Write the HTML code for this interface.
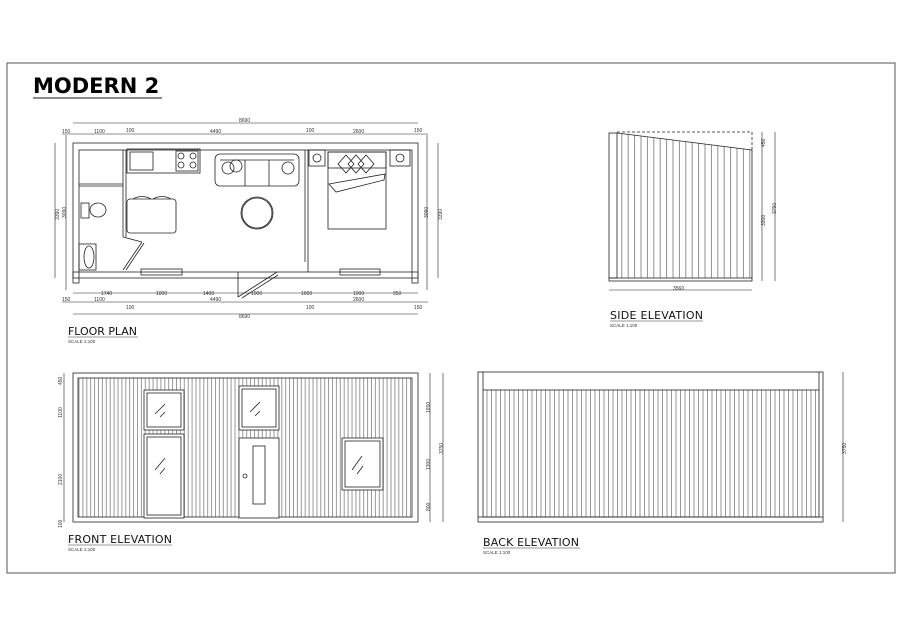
<!DOCTYPE html>
<html><head><meta charset="utf-8"><style>
html,body{margin:0;padding:0;background:#fff;}
svg{display:block;font-family:"Liberation Sans",sans-serif;}
</style></head><body>
<svg width="900" height="636" viewBox="0 0 900 636" xmlns="http://www.w3.org/2000/svg">
<defs>
<pattern id="pf" width="3.9" height="10" patternUnits="userSpaceOnUse"><line x1="1" y1="0" x2="1" y2="10" stroke="#555" stroke-width="0.6"/></pattern>
<pattern id="pb" width="4.5" height="10" patternUnits="userSpaceOnUse"><line x1="1" y1="0" x2="1" y2="10" stroke="#555" stroke-width="0.6"/></pattern>
<pattern id="ps" width="6.4" height="10" patternUnits="userSpaceOnUse"><line x1="1" y1="0" x2="1" y2="10" stroke="#444" stroke-width="0.6"/></pattern>
<clipPath id="sc"><polygon points="617,133 752,150 752,278 617,278"/></clipPath>
</defs>
<rect x="7" y="63" width="888" height="510" fill="none" stroke="#555" stroke-width="1"/>
<text x="33" y="93" font-size="21" font-weight="bold" font-family="DejaVu Sans,sans-serif">MODERN 2</text>
<line x1="33" y1="98" x2="162" y2="98" stroke="#666" stroke-width="1.5"/>

<g fill="none" stroke="#222" stroke-width="0.8">
<rect x="73" y="143" width="345" height="135"/>
<rect x="79" y="150" width="333" height="122"/>
<rect x="73" y="272" width="6" height="11"/><rect x="412" y="272" width="6" height="11"/>
<line x1="123" y1="150" x2="123" y2="237"/><line x1="126" y1="150" x2="126" y2="237"/>
<line x1="79" y1="184" x2="123" y2="184"/><line x1="79" y1="186" x2="123" y2="186"/>
<line x1="123" y1="237" x2="142" y2="242"/><line x1="123" y1="270" x2="142" y2="242"/><line x1="126" y1="270" x2="144" y2="243"/>
<line x1="305" y1="150" x2="305" y2="262"/><line x1="308" y1="150" x2="308" y2="272"/>
<rect x="141" y="269" width="41" height="6"/><rect x="340" y="269" width="40" height="6"/>
<line x1="238" y1="272" x2="238" y2="297"/><line x1="238" y1="297" x2="277" y2="272"/><line x1="242" y1="298" x2="278" y2="275"/>
<rect x="127" y="149" width="73" height="24"/><rect x="130" y="152" width="23" height="18"/><rect x="176" y="151" width="22" height="20"/>
<circle cx="181" cy="156" r="3"/><circle cx="193" cy="156" r="3"/><circle cx="181" cy="165" r="3"/><circle cx="193" cy="165" r="3"/>
<rect x="127" y="199" width="49" height="34" rx="3"/>
<path d="M133 199 q9 -5 18 0 M153 199 q9 -5 18 0"/>
<ellipse cx="98" cy="210" rx="8" ry="7"/><rect x="81" y="203" width="8" height="15"/>
<rect x="79" y="244" width="17" height="26"/><ellipse cx="89" cy="257" rx="5" ry="11"/>
<rect x="215" y="154" width="84" height="32" rx="5"/><line x1="245" y1="160" x2="245" y2="186"/><line x1="269" y1="160" x2="269" y2="186"/><line x1="220" y1="160" x2="294" y2="160"/>
<circle cx="228" cy="168" r="6"/><circle cx="236" cy="166" r="6"/><circle cx="288" cy="168" r="6"/>
<circle cx="257" cy="213" r="16"/><circle cx="257" cy="213" r="15"/>
<rect x="328" y="152" width="58" height="77"/><rect x="328" y="152" width="58" height="16"/>
<path d="M338 164 l8 -9 8 9 -8 9z M348 164 l8 -9 8 9 -8 9z M358 164 l8 -9 8 9 -8 9z"/>
<path d="M329 184 l56 -10 -1 6 -48 12z"/>
<rect x="309" y="150" width="16" height="16"/><circle cx="317" cy="158" r="4"/><rect x="390" y="150" width="20" height="16"/><circle cx="400" cy="158" r="4"/>
<g stroke-width="0.6">
<line x1="73" y1="123" x2="418" y2="123"/><line x1="62" y1="134" x2="428" y2="134"/>
<line x1="73" y1="293" x2="418" y2="293"/><line x1="62" y1="302" x2="428" y2="302"/><line x1="73" y1="314" x2="418" y2="314"/>
<line x1="55" y1="143" x2="55" y2="278"/><line x1="66" y1="135" x2="66" y2="290"/>
<line x1="427" y1="135" x2="427" y2="290"/><line x1="438" y1="143" x2="438" y2="278"/>
</g>
<rect x="73" y="373" width="345" height="149"/>
<rect x="78" y="378" width="334" height="139" fill="url(#pf)"/>
<g fill="#fff"><rect x="144" y="390" width="40" height="40"/><rect x="144" y="434" width="40" height="84"/><rect x="239" y="386" width="40" height="44"/><rect x="239" y="438" width="40" height="80"/><rect x="342" y="438" width="41" height="52"/></g>
<rect x="147" y="393" width="34" height="34"/><rect x="147" y="437" width="34" height="78"/><rect x="242" y="389" width="34" height="38"/><rect x="253" y="446" width="12" height="58"/><rect x="345" y="441" width="35" height="46"/>
<circle cx="245" cy="476" r="2"/>
<path d="M155 414 l10 -10 M160 417 l5 -5 M155 470 l10 -12 M160 474 l5 -6 M250 412 l10 -10 M255 416 l5 -5 M352 470 l10 -14 M357 474 l6 -8"/>
<g stroke-width="0.6"><line x1="430" y1="373" x2="430" y2="522"/><line x1="443" y1="373" x2="443" y2="522"/><line x1="64" y1="373" x2="64" y2="522"/></g>
<rect x="609" y="133" width="8" height="145"/>
<rect x="617" y="133" width="135" height="145" fill="url(#ps)" stroke="none" clip-path="url(#sc)"/>
<line x1="617" y1="133" x2="752" y2="150"/><line x1="752" y1="150" x2="752" y2="278"/>
<path d="M617 132 H752 V150" stroke-dasharray="3,2"/>
<rect x="609" y="278" width="143" height="3"/>
<g stroke-width="0.6"><line x1="609" y1="290" x2="752" y2="290"/><line x1="762" y1="132" x2="762" y2="281"/><line x1="775" y1="132" x2="775" y2="281"/></g>
<rect x="478" y="372" width="345" height="150"/>
<line x1="483" y1="372" x2="483" y2="390"/><line x1="819" y1="372" x2="819" y2="390"/>
<rect x="483" y="390" width="336" height="127" fill="url(#pb)"/>
<line x1="478" y1="517" x2="823" y2="517"/>
<line x1="843" y1="372" x2="843" y2="522" stroke-width="0.6"/>
</g>
<g font-size="5" fill="#333">
<text x="239" y="122">8690</text><text x="239" y="318">8690</text>
<text x="62" y="133">150</text><text x="94" y="133">1100</text><text x="126" y="132">100</text><text x="210" y="133">4490</text><text x="306" y="132">100</text><text x="353" y="133">2600</text><text x="414" y="132">150</text>
<text x="101" y="295">1740</text><text x="156" y="295">1000</text><text x="203" y="295">1400</text><text x="251" y="295">1000</text><text x="301" y="295">1600</text><text x="353" y="295">1000</text><text x="393" y="295">950</text>
<text x="62" y="301">150</text><text x="94" y="301">1100</text><text x="126" y="309">100</text><text x="210" y="301">4490</text><text x="306" y="309">100</text><text x="353" y="301">2600</text><text x="414" y="309">150</text>
<text x="673" y="290">3560</text>
</g>
<g font-size="5" fill="#333">
<text transform="translate(59,220) rotate(-90)">3390</text><text transform="translate(66,218) rotate(-90)">3090</text>
<text transform="translate(428,218) rotate(-90)">3090</text><text transform="translate(442,220) rotate(-90)">3390</text>
<text transform="translate(765,226) rotate(-90)">3300</text><text transform="translate(776,214) rotate(-90)">3750</text><text transform="translate(765,147) rotate(-90)">450</text>
<text transform="translate(62,385) rotate(-90)">450</text><text transform="translate(62,418) rotate(-90)">1100</text><text transform="translate(62,485) rotate(-90)">2100</text><text transform="translate(62,528) rotate(-90)">100</text>
<text transform="translate(430,413) rotate(-90)">1650</text><text transform="translate(430,470) rotate(-90)">1300</text><text transform="translate(430,511) rotate(-90)">800</text><text transform="translate(443,454) rotate(-90)">3750</text>
<text transform="translate(846,454) rotate(-90)">3750</text>
</g>
<g font-size="11" fill="#111" font-family="DejaVu Sans,sans-serif">
<text x="68" y="335" textLength="69">FLOOR PLAN</text><text x="68" y="543" textLength="104">FRONT ELEVATION</text><text x="610" y="319" textLength="93">SIDE ELEVATION</text><text x="483" y="546" textLength="96">BACK ELEVATION</text>
</g>
<g stroke="#777" stroke-width="0.8"><line x1="68" y1="337" x2="138" y2="337"/><line x1="68" y1="545" x2="172" y2="545"/><line x1="610" y1="321" x2="703" y2="321"/><line x1="483" y1="548" x2="580" y2="548"/></g>
<g font-size="4.5" fill="#333"><text x="68" y="343">SCALE 1:100</text><text x="68" y="551">SCALE 1:100</text><text x="610" y="327">SCALE 1:100</text><text x="483" y="554">SCALE 1:100</text></g>
</svg>
</body></html>
